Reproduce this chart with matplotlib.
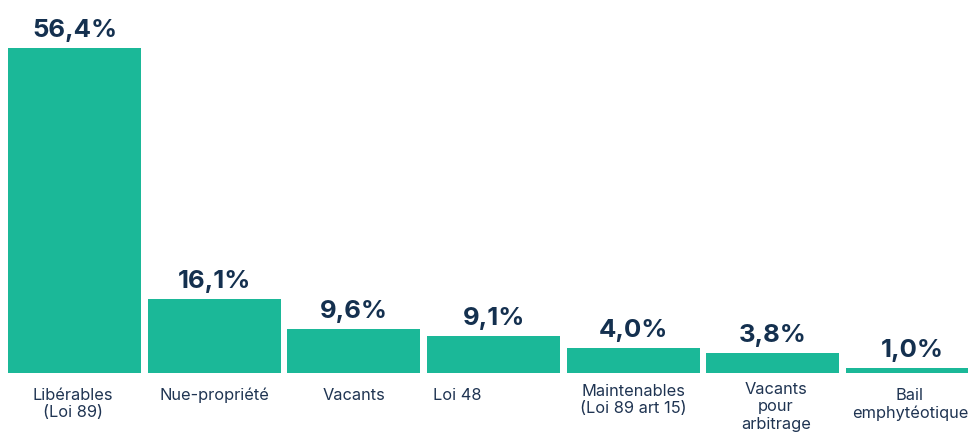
import matplotlib
matplotlib.use("Agg")
import matplotlib.pyplot as plt

categories = ["Libérables\n(Loi 89)", "Nue-propriété", "Vacants", "Loi 48",
              "Maintenables\n(Loi 89 art 15)", "Vacants\npour\narbitrage", "Bail\nemphytéotique"]
value_labels = ["56,4%", "16,1%", "9,6%", "9,1%", "4,0%", "3,8%", "1,0%"]
# bar heights as drawn in the picture (not strictly proportional to the labels)
bar_heights = [56.4, 12.84, 7.64, 6.42, 4.34, 3.47, 0.87]

BAR = "#1BB898"
NAVY = "#14304F"
LABEL = "#1F3452"

plt.rcParams['font.family'] = ['Inter', 'DejaVu Sans']

W, H = 968, 434
fig = plt.figure(figsize=(W / 100, H / 100), dpi=100)
pitch = 139.7
bottom_px = 61
ax = fig.add_axes([0, bottom_px / H, 1, 1 - bottom_px / H])
x0 = -0.476 - 8 / pitch
ax.set_xlim(x0, x0 + W / pitch)
ax.set_ylim(0, (H - bottom_px) / 5.762)

xs = list(range(len(categories)))
bars = ax.bar(xs, bar_heights, width=133 / pitch, color=BAR, clip_on=True)

for x, h, lab in zip(xs, bar_heights, value_labels):
    ax.annotate(lab, (x, h), xytext=(0, 7.9), textcoords="offset points",
                ha="center", va="baseline", fontsize=18.5, fontweight="bold",
                color=NAVY)

x_offsets = [-1, 0, 0, -26, 0, 2, -2]
y_offsets = [-10.5, -10.5, -10.5, -10.5, -7.8, -6.5, -10.5]
for x, cat, dx, dy in zip(xs, categories, x_offsets, y_offsets):
    ax.annotate(cat, (x, 0), xytext=(dx, dy), textcoords="offset points",
                ha="center", va="top", fontsize=11.8, color=LABEL,
                linespacing=1.2, annotation_clip=False)

ax.axis("off")
fig.savefig("out.png", dpi=100)
